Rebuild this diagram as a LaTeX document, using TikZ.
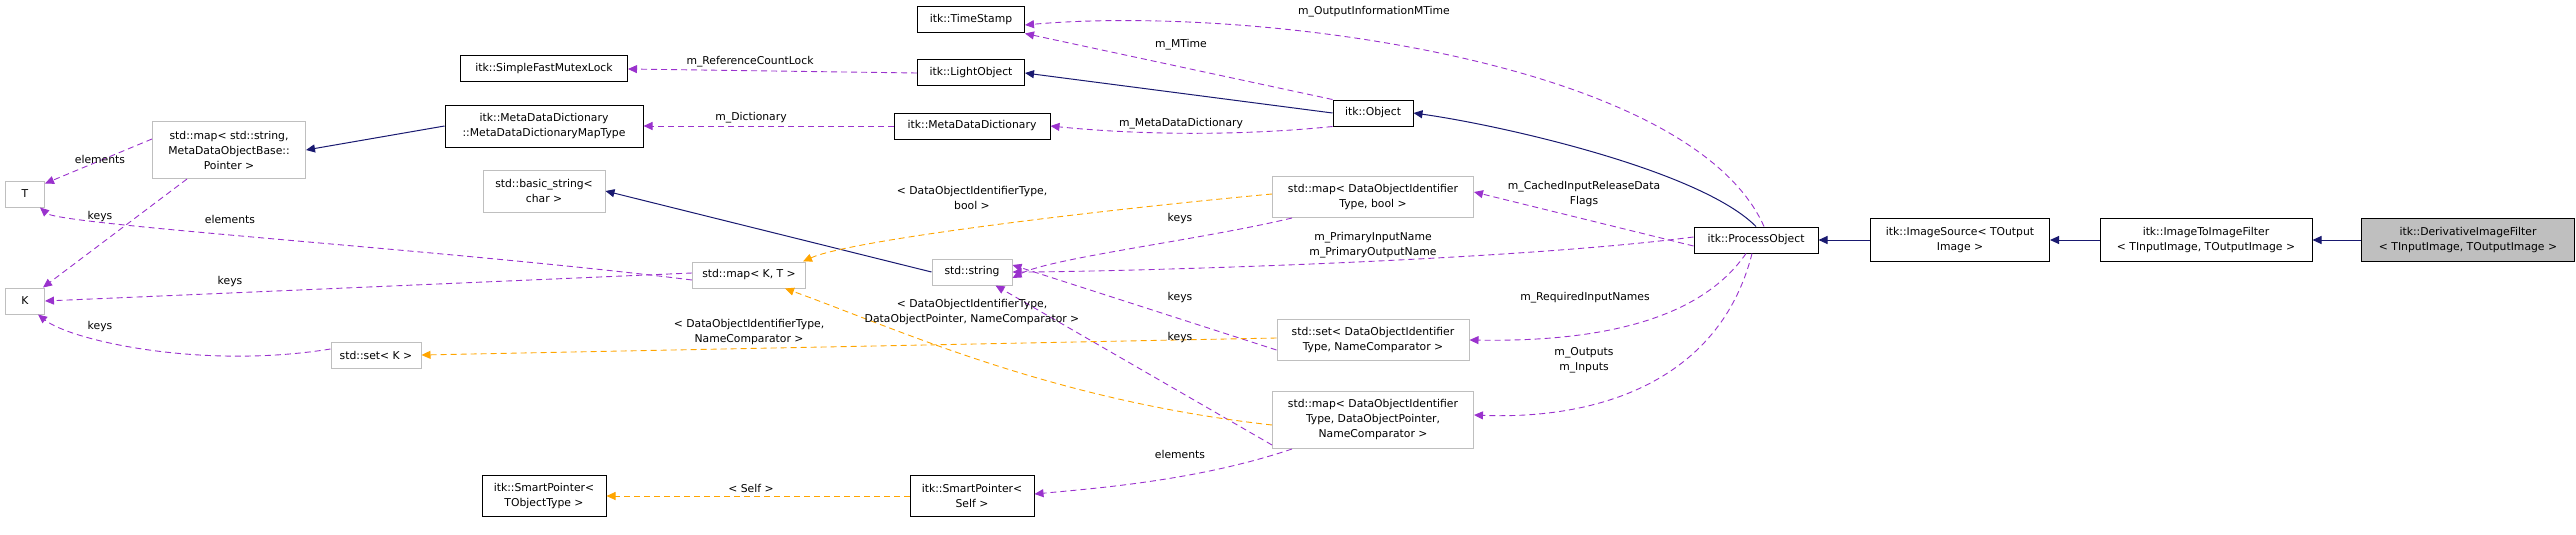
\documentclass[tikz,border=0pt]{standalone}
\usepackage{fontspec}
\setmainfont{DejaVu Sans}
\usetikzlibrary{arrows.meta}
\definecolor{navy}{HTML}{191970}
\definecolor{purp}{HTML}{9A32CD}
\definecolor{orng}{HTML}{FFA500}
\definecolor{gbord}{HTML}{BFBFBF}
\begin{document}
\begin{tikzpicture}[x=1pt,y=-1pt,
  font=\fontsize{10.8}{15}\selectfont,
  box/.style={draw=black,line width=1pt,fill=white,inner sep=0pt,align=center,minimum height=#1},
  box/.default=26pt,
  ubox/.style={box=#1,draw=gbord},
  ubox/.default=26pt,
  lbl/.style={align=center,inner sep=0pt,font=\fontsize{10.8}{15}\selectfont},
  inh/.style={draw=navy,line width=1pt,-{Triangle[length=9pt,width=8pt]}},
  use/.style={draw=purp,line width=0.9pt,dash pattern=on 6pt off 4pt,-{Triangle[length=9pt,width=8pt]}},
  tpl/.style={draw=orng,line width=0.9pt,dash pattern=on 6pt off 4pt,-{Triangle[length=9pt,width=8pt]}}]
\useasboundingbox (0,0) rectangle (2576,535);
% nodes
\node[box,minimum width=167pt] (sfml) at (544,69) {itk::SimpleFastMutexLock};
\node[box=42pt,minimum width=198pt] (mapty) at (544,126) {itk::MetaDataDictionary\\::MetaDataDictionaryMapType};
\node[ubox=57pt,minimum width=153pt] (mstr) at (229,150) {std::map{\textless} std::string,\\MetaDataObjectBase::\\Pointer {\textgreater}};
\node[ubox,minimum width=39pt] (T) at (25,194) {T};
\node[ubox,minimum width=39pt] (K) at (25,301) {K};
\node[ubox=42pt,minimum width=122pt] (bstr) at (544,191) {std::basic\_string{\textless}\\char {\textgreater}};
\node[ubox,minimum width=113pt] (mkt) at (749,275) {std::map{\textless} K, T {\textgreater}};
\node[ubox,minimum width=90pt] (setk) at (376,355) {std::set{\textless} K {\textgreater}};
\node[box=41pt,minimum width=124pt] (spto) at (544,496) {itk::SmartPointer{\textless}\\TObjectType {\textgreater}};
\node[box,minimum width=107pt] (ts) at (971,20) {itk::TimeStamp};
\node[box,minimum width=107pt] (lo) at (971,73) {itk::LightObject};
\node[box,minimum width=156pt] (mdd) at (972,126) {itk::MetaDataDictionary};
\node[box,minimum width=80pt] (obj) at (1373,113) {itk::Object};
\node[ubox=41pt,minimum width=201pt] (mbool) at (1373,197) {std::map{\textless} DataObjectIdentifier\\Type, bool {\textgreater}};
\node[ubox,minimum width=80pt] (str) at (972,272) {std::string};
\node[ubox=41pt,minimum width=192pt] (snc) at (1373,340) {std::set{\textless} DataObjectIdentifier\\Type, NameComparator {\textgreater}};
\node[ubox=57pt,minimum width=201pt] (mdop) at (1373,420) {std::map{\textless} DataObjectIdentifier\\Type, DataObjectPointer,\\NameComparator {\textgreater}};
\node[box=41pt,minimum width=124pt] (spself) at (972,496) {itk::SmartPointer{\textless}\\Self {\textgreater}};
\node[box,minimum width=124pt] (po) at (1756,240) {itk::ProcessObject};
\node[box=43pt,minimum width=179pt] (is) at (1960,240) {itk::ImageSource{\textless} TOutput\\Image {\textgreater}};
\node[box=43pt,minimum width=212pt] (itif) at (2206,240) {itk::ImageToImageFilter\\{\textless} TInputImage, TOutputImage {\textgreater}};
\node[box=43pt,minimum width=213pt,fill=gbord] (dif) at (2468,240) {itk::DerivativeImageFilter\\{\textless} TInputImage, TOutputImage {\textgreater}};
% inheritance
\draw[inh] (dif) -- (itif);
\draw[inh] (itif) -- (is);
\draw[inh] (is) -- (po);
\draw[inh] (po.north) .. controls (1700,170) and (1500,125) .. (obj.east);
\draw[inh] (obj.west) -- (lo.east);
\draw[inh] (mapty.west) -- (mstr.east);
\draw[inh] (str.west) -- (bstr.east);
% usage
\draw[use] (lo.west) -- (sfml.east);
\draw[use] (mdd.west) -- (mapty.east);
\draw[use] (obj.north west) -- (ts.south east);
\draw[use] (obj.south west) .. controls (1250,135) and (1150,136) .. (mdd.east);
\draw[use] ([xshift=8pt]po.north) .. controls (1690,60) and (1250,5) .. ([yshift=-5pt]ts.east);
\draw[use] ([yshift=-6pt]po.west) -- ([yshift=5pt]mbool.east);
\draw[use] ([yshift=3pt]po.west) .. controls (1500,262) and (1100,272) .. (str.east);
\draw[use] ([xshift=-10pt]po.south) .. controls (1700,320) and (1600,342) .. (snc.east);
\draw[use] ([xshift=-4pt]po.south) .. controls (1720,380) and (1600,420) .. ([yshift=5pt]mdop.east);
\draw[use] ([xshift=20pt]mbool.south west) .. controls (1200,240) and (1050,258) .. ([yshift=-6pt]str.east);
\draw[use] ([yshift=-10pt]snc.west) -- ([yshift=7pt]str.east);
\draw[use] ([yshift=-25pt]mdop.west) -- ([xshift=-17pt]str.south east);
\draw[use] ([xshift=20pt]mdop.south west) .. controls (1200,480) and (1100,488) .. ([yshift=2pt]spself.east);
\draw[use] ([yshift=-5pt]mkt.west) .. controls (450,250) and (60,225) .. ([xshift=-5pt]T.south east);
\draw[use] ([yshift=2pt]mkt.west) -- (K.east);
\draw[use] ([yshift=11pt]mstr.west) -- ([yshift=-3pt]T.north east);
\draw[use] ([xshift=35pt]mstr.south west) -- ([xshift=-2pt]K.north east);
\draw[use] ([yshift=6pt]setk.west) .. controls (200,370) and (70,340) .. ([xshift=-7pt]K.south east);
% templates
\draw[tpl] ([yshift=3pt]mbool.west) .. controls (1100,210) and (850,240) .. ([xshift=-3pt]mkt.north east);
\draw[tpl] ([yshift=2pt]snc.west) -- (setk.east);
\draw[tpl] ([yshift=-5pt]mdop.west) .. controls (1050,400) and (900,330) .. ([xshift=36pt]mkt.south);
\draw[tpl] (spself.west) -- (spto.east);
% labels
\node[lbl] (l1) at (1374,12) {m\_OutputInformationMTime};
\node[lbl] (l2) at (1181,45) {m\_MTime};
\node[lbl] (l3) at (1181,124) {m\_MetaDataDictionary};
\node[lbl] (l4) at (972,198) {{\textless} DataObjectIdentifierType,\\bool {\textgreater}};
\node[lbl] (l5) at (1180,219) {keys};
\node[lbl] (l6) at (1584,194) {m\_CachedInputReleaseData\\Flags};
\node[lbl] (l7) at (1373,245) {m\_PrimaryInputName\\m\_PrimaryOutputName};
\node[lbl] (l8) at (1180,298) {keys};
\node[lbl] (l9) at (1585,298) {m\_RequiredInputNames};
\node[lbl] (l10) at (972,312) {{\textless} DataObjectIdentifierType,\\DataObjectPointer, NameComparator {\textgreater}};
\node[lbl] (l11) at (1180,338) {keys};
\node[lbl] (l12) at (1584,360) {m\_Outputs\\m\_Inputs};
\node[lbl] (l13) at (1180,454) {elements};
\node[lbl] (l14) at (750,62) {m\_ReferenceCountLock};
\node[lbl] (l15) at (751,118) {m\_Dictionary};
\node[lbl] (l16) at (100,159) {elements};
\node[lbl] (l17) at (100,217) {keys};
\node[lbl] (l18) at (230,219) {elements};
\node[lbl] (l19) at (230,282) {keys};
\node[lbl] (l20) at (100,327) {keys};
\node[lbl] (l21) at (749,332) {{\textless} DataObjectIdentifierType,\\NameComparator {\textgreater}};
\node[lbl] (l22) at (751,488) {{\textless} Self {\textgreater}};
\end{tikzpicture}
\end{document}
